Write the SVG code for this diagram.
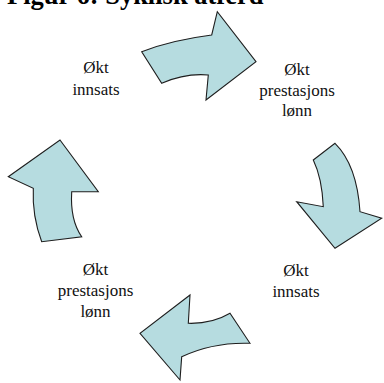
<svg xmlns="http://www.w3.org/2000/svg" width="384" height="383" viewBox="0 0 384 383">
<style>
.arrow{fill:#b6dce0;stroke:#1e1e1e;stroke-width:1.1;stroke-linejoin:miter}
.lbl{font-family:"Liberation Serif","Times New Roman",serif;font-size:17px;fill:#111;text-anchor:middle}
.title{font-family:"Liberation Serif","Times New Roman",serif;font-size:26.5px;font-weight:bold;fill:#000}
</style>
<rect width="384" height="383" fill="#fff"/>
<text class="title" x="7" y="3.5">Figur 6: Syklisk atferd</text>
<g id="connectors">
<path id="arrow-top" class="arrow" d="M141.7,51.7 Q172,40 211.7,35 L217.3,11.7 L256,61.7 L206,100 L208.3,75 Q185,73 161.7,83.3 Z"/>
<path id="arrow-right" class="arrow" d="M335,143.3 Q357,165 360,211.7 L381.7,218.3 L335,248.3 L296.7,201.7 L323.3,206.7 Q322,178 313.3,160 Z"/>
<path id="arrow-bottom" class="arrow" d="M230,313.3 Q212,324 188.3,323.3 L190,295 L140,333.3 L180,380 L181.7,356.7 Q213,342 250,343.3 Z"/>
<path id="arrow-left" class="arrow" d="M60,140 L98.3,191.7 L71.7,191.7 Q70,220 81.7,236.7 L41.7,241.7 Q32,216 33.3,188.3 L8.3,176.7 Z"/>
</g>
<g id="node-tl">
<text class="lbl" x="96" y="73">Økt</text>
<text class="lbl" x="96" y="95">innsats</text>
</g>
<g id="node-tr">
<text class="lbl" x="297" y="75">Økt</text>
<text class="lbl" x="297" y="95.5">prestasjons</text>
<text class="lbl" x="297" y="116">lønn</text>
</g>
<g id="node-br">
<text class="lbl" x="296" y="276">Økt</text>
<text class="lbl" x="296" y="297">innsats</text>
</g>
<g id="node-bl">
<text class="lbl" x="95.5" y="275">Økt</text>
<text class="lbl" x="95.5" y="296">prestasjons</text>
<text class="lbl" x="95.5" y="317">lønn</text>
</g>
</svg>
